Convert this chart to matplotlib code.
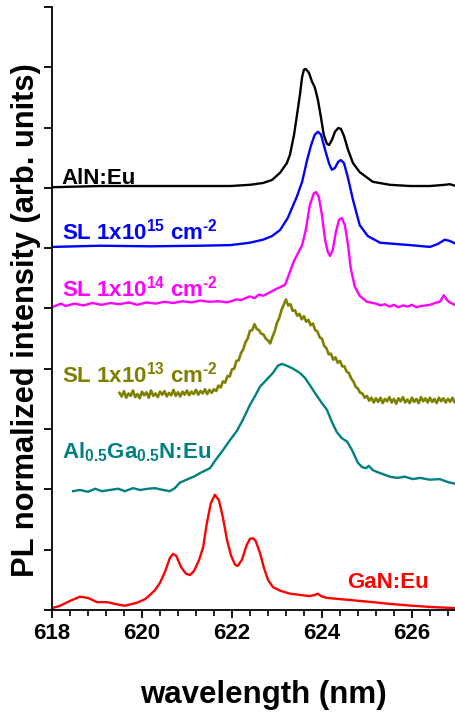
import matplotlib
matplotlib.use('Agg')
import matplotlib.pyplot as plt
import matplotlib.ticker as ticker

plt.rcParams['font.family'] = ['Liberation Sans', 'DejaVu Sans']
plt.rcParams['font.weight'] = 'bold'
plt.rcParams['mathtext.fontset'] = 'custom'
plt.rcParams['mathtext.rm'] = 'Liberation Sans:bold'
plt.rcParams['mathtext.it'] = 'Liberation Sans:bold'
plt.rcParams['mathtext.bf'] = 'Liberation Sans:bold'

# AlN:Eu
aln_x = [618.00, 619.07, 620.18, 621.29, 621.96, 622.40, 622.69, 622.89, 623.07, 623.22,
         623.29, 623.38, 623.44, 623.51, 623.56, 623.60, 623.64, 623.71, 623.78, 623.84,
         623.91, 623.98, 624.04, 624.11, 624.16, 624.22, 624.29, 624.36, 624.42, 624.49,
         624.58, 624.69, 624.84, 625.13, 625.51, 625.96, 626.40, 626.73, 626.84, 626.98]
aln_y = [7.01, 7.03, 7.03, 7.03, 7.03, 7.05, 7.08, 7.13, 7.25, 7.41,
         7.55, 7.88, 8.18, 8.54, 8.84, 8.96, 8.97, 8.91, 8.76, 8.67,
         8.46, 8.16, 7.88, 7.73, 7.71, 7.79, 7.93, 7.99, 7.98, 7.86,
         7.63, 7.41, 7.26, 7.10, 7.05, 7.03, 7.03, 7.05, 7.06, 7.03]

# SL 1x10^15
sl15_x = [618.00, 619.07, 620.18, 621.29, 621.96, 622.40, 622.69, 622.89, 623.07, 623.24,
          623.44, 623.56, 623.67, 623.76, 623.84, 623.91, 623.98, 624.07, 624.16, 624.22,
          624.29, 624.36, 624.42, 624.49, 624.58, 624.69, 624.84, 625.02, 625.29, 625.62,
          625.96, 626.40, 626.58, 626.73, 626.84, 626.98]
sl15_y = [6.02, 6.04, 6.03, 6.04, 6.05, 6.09, 6.14, 6.20, 6.30, 6.50,
          6.85, 7.10, 7.46, 7.71, 7.88, 7.93, 7.88, 7.63, 7.40, 7.30,
          7.33, 7.43, 7.46, 7.41, 7.16, 6.80, 6.38, 6.20, 6.09, 6.07,
          6.05, 6.02, 6.07, 6.14, 6.12, 6.07]

# SL 1x10^14
sl14_x = [618.0, 618.2, 618.3, 618.5, 618.7, 618.9, 619.1, 619.3, 619.5, 619.7,
          619.9, 620.1, 620.3, 620.5, 620.7, 620.9, 621.1, 621.3, 621.5, 621.7,
          621.9, 622.1, 622.2, 622.4, 622.5, 622.6, 622.7, 622.85, 623.0, 623.18,
          623.29, 623.38, 623.47, 623.56, 623.64, 623.73, 623.82, 623.87, 623.93, 624.0,
          624.07, 624.13, 624.18, 624.24, 624.31, 624.38, 624.44, 624.51, 624.58, 624.64,
          624.73, 624.84, 625.0, 625.2, 625.3, 625.4, 625.5, 625.6, 625.7, 625.8,
          625.9, 626.0, 626.1, 626.2, 626.3, 626.4, 626.55, 626.62, 626.71, 626.78,
          626.84, 626.98]
sl14_y = [5.02, 5.08, 5.04, 5.08, 5.05, 5.09, 5.06, 5.09, 5.07, 5.10,
          5.06, 5.10, 5.08, 5.11, 5.09, 5.12, 5.10, 5.13, 5.11, 5.12,
          5.10, 5.15, 5.14, 5.20, 5.17, 5.23, 5.21, 5.27, 5.33, 5.39,
          5.61, 5.79, 5.92, 6.05, 6.30, 6.71, 6.91, 6.93, 6.85, 6.55,
          6.14, 5.94, 5.87, 5.97, 6.27, 6.47, 6.50, 6.38, 6.05, 5.67,
          5.36, 5.21, 5.11, 5.08, 5.05, 5.07, 5.03, 5.06, 5.02, 5.05,
          5.03, 5.06, 5.02, 5.04, 5.05, 5.06, 5.10, 5.11, 5.22, 5.14,
          5.10, 5.05]

# SL 1x10^13 (noisy)
sl13_x = [619.50, 619.55, 619.60, 619.65, 619.70, 619.75, 619.80, 619.85, 619.90, 619.95,
          620.00, 620.05, 620.10, 620.15, 620.20, 620.25, 620.30, 620.35, 620.40, 620.45,
          620.50, 620.55, 620.60, 620.65, 620.70, 620.75, 620.80, 620.85, 620.90, 620.95,
          621.00, 621.05, 621.10, 621.15, 621.20, 621.25, 621.30, 621.35, 621.40, 621.45,
          621.50, 621.55, 621.60, 621.65, 621.70, 621.75, 621.80, 621.85, 621.90, 621.95,
          622.00, 622.05, 622.10, 622.15, 622.20, 622.25, 622.30, 622.35, 622.40, 622.45,
          622.50, 622.55, 622.60, 622.65, 622.70, 622.75, 622.80, 622.85, 622.90, 622.95,
          623.00, 623.05, 623.10, 623.15, 623.20, 623.25, 623.30, 623.35, 623.40, 623.45,
          623.50, 623.55, 623.60, 623.65, 623.70, 623.75, 623.80, 623.85, 623.90, 623.95,
          624.00, 624.05, 624.10, 624.15, 624.20, 624.25, 624.30, 624.35, 624.40, 624.45,
          624.50, 624.55, 624.60, 624.65, 624.70, 624.75, 624.80, 624.85, 624.90, 624.95,
          625.00, 625.05, 625.10, 625.15, 625.20, 625.25, 625.30, 625.35, 625.40, 625.45,
          625.50, 625.55, 625.60, 625.65, 625.70, 625.75, 625.80, 625.85, 625.90, 625.95,
          626.00, 626.05, 626.10, 626.15, 626.20, 626.25, 626.30, 626.35, 626.40, 626.45,
          626.50, 626.55, 626.60, 626.65, 626.70, 626.75, 626.80, 626.85, 626.90, 626.95,
          627.00]
sl13_y = [3.60, 3.54, 3.63, 3.52, 3.59, 3.55, 3.64, 3.53, 3.58, 3.51,
          3.62, 3.56, 3.61, 3.52, 3.64, 3.55, 3.59, 3.53, 3.62, 3.57,
          3.63, 3.54, 3.60, 3.56, 3.65, 3.55, 3.61, 3.54, 3.62, 3.57,
          3.64, 3.56, 3.62, 3.58, 3.65, 3.57, 3.63, 3.59, 3.66, 3.58,
          3.65, 3.60, 3.66, 3.63, 3.72, 3.69, 3.79, 3.77, 3.88, 3.87,
          3.99, 4.00, 4.13, 4.14, 4.26, 4.32, 4.44, 4.50, 4.63, 4.64,
          4.74, 4.66, 4.64, 4.58, 4.57, 4.50, 4.47, 4.42, 4.53, 4.62,
          4.76, 4.84, 4.97, 5.06, 5.15, 5.05, 5.07, 4.96, 4.97, 4.88,
          4.91, 4.82, 4.87, 4.78, 4.81, 4.72, 4.75, 4.64, 4.62, 4.52,
          4.50, 4.38, 4.34, 4.24, 4.25, 4.15, 4.19, 4.10, 4.13, 4.04,
          4.04, 3.95, 3.93, 3.84, 3.79, 3.70, 3.67, 3.60, 3.59, 3.52,
          3.55, 3.47, 3.52, 3.44, 3.51, 3.45, 3.52, 3.43, 3.50, 3.46,
          3.53, 3.44, 3.50, 3.42, 3.51, 3.46, 3.53, 3.44, 3.49, 3.43,
          3.52, 3.45, 3.50, 3.43, 3.53, 3.46, 3.51, 3.44, 3.52, 3.45,
          3.50, 3.43, 3.52, 3.46, 3.51, 3.44, 3.50, 3.45, 3.52, 3.44,
          3.49]

# Al0.5Ga0.5N:Eu
algan_x = [618.47, 618.62, 618.80, 618.96, 619.11, 619.29, 619.47, 619.62, 619.80, 619.96,
           620.13, 620.29, 620.47, 620.62, 620.73, 620.84, 621.02, 621.18, 621.29, 621.40,
           621.51, 621.64, 621.80, 621.96, 622.11, 622.24, 622.40, 622.53, 622.62, 622.76,
           622.91, 623.02, 623.11, 623.22, 623.36, 623.51, 623.62, 623.73, 623.87, 624.00,
           624.11, 624.22, 624.33, 624.44, 624.56, 624.67, 624.80, 624.89, 624.98, 625.04,
           625.13, 625.22, 625.33, 625.51, 625.67, 625.84, 626.02, 626.18, 626.40, 626.62,
           626.80, 626.98]
algan_y = [1.97, 1.99, 1.96, 2.01, 1.97, 1.99, 2.01, 1.97, 2.02, 1.99,
           2.01, 2.02, 1.99, 1.97, 2.02, 2.11, 2.17, 2.22, 2.27, 2.31,
           2.35, 2.49, 2.65, 2.82, 2.97, 3.15, 3.40, 3.57, 3.70, 3.81,
           3.93, 4.05, 4.08, 4.05, 4.00, 3.93, 3.85, 3.73, 3.57, 3.43,
           3.32, 3.12, 2.95, 2.85, 2.79, 2.65, 2.44, 2.37, 2.35, 2.39,
           2.32, 2.29, 2.26, 2.21, 2.19, 2.21, 2.17, 2.19, 2.16, 2.17,
           2.12, 2.09]

# GaN:Eu
gan_x = [618.00, 618.18, 618.40, 618.62, 618.80, 619.00, 619.22, 619.40, 619.62, 619.89,
         620.07, 620.18, 620.29, 620.40, 620.51, 620.62, 620.69, 620.76, 620.87, 620.98,
         621.07, 621.16, 621.27, 621.36, 621.44, 621.53, 621.62, 621.71, 621.80, 621.89,
         621.98, 622.07, 622.13, 622.22, 622.33, 622.40, 622.47, 622.53, 622.62, 622.71,
         622.80, 622.91, 623.07, 623.29, 623.51, 623.73, 623.84, 623.91, 623.98, 624.11,
         624.40, 624.84, 625.13, 625.51, 626.02, 626.40, 626.98]
gan_y = [0.03, 0.07, 0.15, 0.22, 0.20, 0.13, 0.13, 0.10, 0.07, 0.12,
         0.18, 0.25, 0.33, 0.45, 0.63, 0.86, 0.93, 0.90, 0.71, 0.60,
         0.58, 0.65, 0.83, 1.04, 1.43, 1.77, 1.91, 1.82, 1.53, 1.16,
         0.90, 0.75, 0.73, 0.83, 1.08, 1.18, 1.19, 1.14, 0.95, 0.70,
         0.50, 0.38, 0.32, 0.27, 0.25, 0.23, 0.25, 0.27, 0.23, 0.20,
         0.18, 0.15, 0.13, 0.10, 0.07, 0.05, 0.03]

fig = plt.figure(figsize=(4.56, 7.12), dpi=100)
ax = fig.add_axes([0.114, 0.1433, 0.888, 0.847])

lw = 1.7
ax.plot(aln_x, aln_y, color='black', lw=lw)
ax.plot(sl15_x, sl15_y, color='#0000FF', lw=lw)
ax.plot(sl14_x, sl14_y, color='#FF00FF', lw=lw)
ax.plot(sl13_x, sl13_y, color='#808000', lw=1.9)
ax.plot(algan_x, algan_y, color='#008080', lw=lw)
ax.plot(gan_x, gan_y, color='#FF0000', lw=lw)

fs = 16
ax.text(618.22, 7.06, 'AlN:Eu', color='black', fontsize=fs, fontweight='bold')
ax.text(618.22, 6.14, r'SL 1x10$^{15}$ cm$^{\text{-2}}$', color='#0000FF', fontsize=fs, fontweight='bold')
ax.text(618.22, 5.19, r'SL 1x10$^{14}$ cm$^{\text{-2}}$', color='#FF00FF', fontsize=fs, fontweight='bold')
ax.text(618.22, 3.78, r'SL 1x10$^{13}$ cm$^{\text{-2}}$', color='#808000', fontsize=fs, fontweight='bold')
ax.text(618.22, 2.52, r'Al$_{0.5}$Ga$_{0.5}$N:Eu', color='#008080', fontsize=fs, fontweight='bold')
ax.text(624.56, 0.36, 'GaN:Eu', color='#FF0000', fontsize=fs, fontweight='bold')

ax.set_xlim(618, 627)
ax.set_ylim(0, 10)
ax.xaxis.set_major_locator(ticker.MultipleLocator(2))
ax.xaxis.set_minor_locator(ticker.MultipleLocator(0.4))
ax.yaxis.set_major_locator(ticker.MultipleLocator(1))
ax.set_yticklabels([])
ax.tick_params(axis='both', which='major', direction='out', length=6, width=1.3, labelsize=16)
ax.tick_params(axis='x', which='minor', direction='out', length=4, width=1.2)
for lab in ax.get_xticklabels():
    lab.set_fontweight('bold')

ax.spines['top'].set_visible(False)
ax.spines['right'].set_visible(False)
ax.spines['left'].set_linewidth(1.3)
ax.spines['bottom'].set_linewidth(1.3)

ax.set_xlabel('wavelength (nm)', fontsize=22.5, fontweight='bold', va='baseline')
ax.xaxis.set_label_coords(0.522, -0.155)
ax.set_ylabel('PL normalized intensity (arb. units)', fontsize=22.2, fontweight='bold')
ax.yaxis.set_label_coords(-0.028, 0.480)

plt.savefig('out.png', dpi=100)
